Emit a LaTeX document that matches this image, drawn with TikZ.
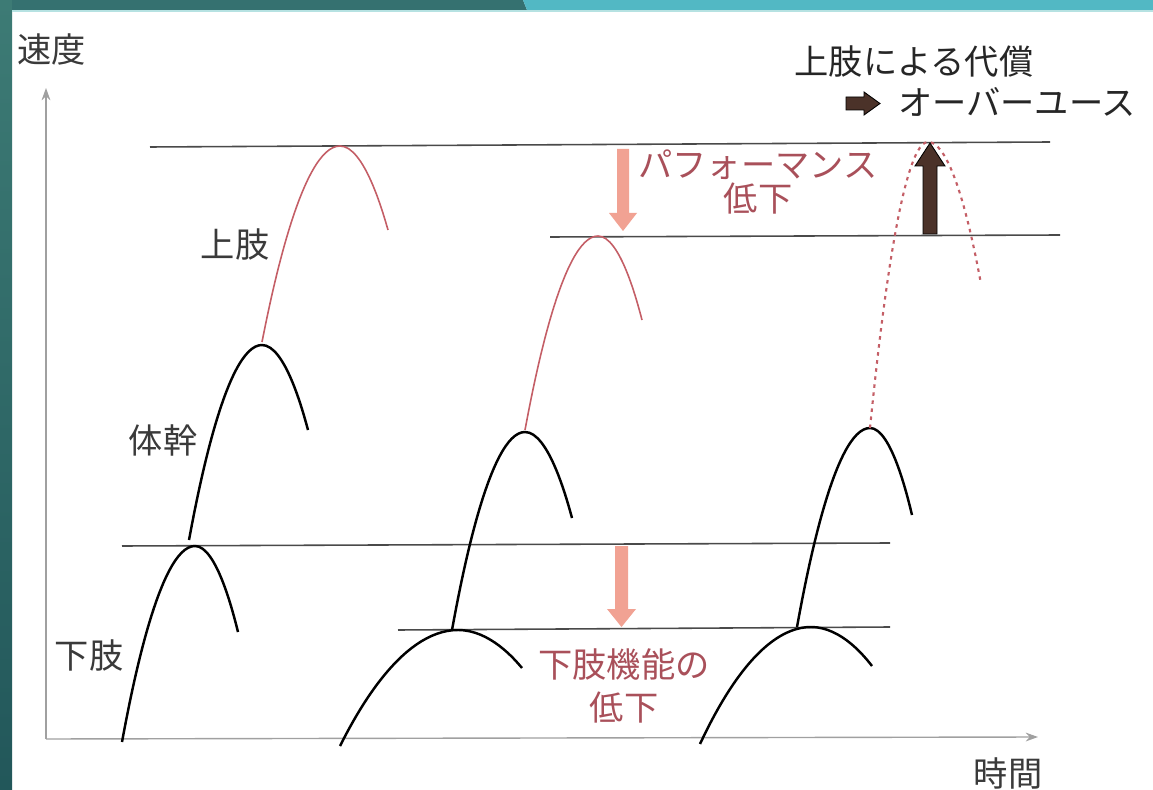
\documentclass[tikz,border=0pt]{standalone}
\usepackage{fontspec}
\setmainfont{Noto Sans CJK JP}
\usetikzlibrary{arrows.meta}
\definecolor{txtgray}{HTML}{3A3A3A}
\definecolor{redtxt}{HTML}{A9505A}
\definecolor{redcurve}{HTML}{C45E66}
\definecolor{pinkarrow}{HTML}{F1A293}
\definecolor{brownarrow}{HTML}{4B3229}
\definecolor{tealA}{HTML}{3D7B75}
\definecolor{tealB}{HTML}{22575A}
\definecolor{tealTop}{HTML}{357170}
\definecolor{tealLight}{HTML}{52B8C4}
\definecolor{tealLine}{HTML}{B6E2E2}
\definecolor{axisgray}{HTML}{A0A0A0}
\definecolor{linegray}{HTML}{4A4A4A}
\tikzset{
  lbl/.style={font=\fontsize{19.5}{20}\selectfont, text=txtgray, inner sep=0pt},
  redlbl/.style={font=\fontsize{19.5}{20}\selectfont, text=redtxt, inner sep=0pt, align=center},
  level/.style={draw=linegray, line width=0.9pt},
  axisline/.style={draw=axisgray, line width=0.8pt, -{Stealth[length=7pt,width=5pt]}},
  blackcurve/.style={draw=black, line width=1.4pt},
  redcurveline/.style={draw=redcurve, line width=0.9pt},
  reddotted/.style={draw=redcurve, line width=1.2pt, dash pattern=on 2pt off 2.6pt},
  pinkblock/.style={fill=pinkarrow, draw=none},
  brownblock/.style={fill=brownarrow, draw=black, line width=0.5pt}
}
\begin{document}
\begin{tikzpicture}[x=0.02cm,y=-0.02cm]
\useasboundingbox (0,0) rectangle (1153,790);
% background frame
\fill[white] (0,0) rectangle (1153,790);
\shade[top color=tealA, bottom color=tealB] (0,0) rectangle (12,790);
\fill[tealTop] (12,0) -- (523,0) -- (527,10) -- (12,10) -- cycle;
\fill[tealLight] (523,0) -- (1153,0) -- (1153,10) -- (527,10) -- cycle;
\fill[tealLine] (12,10) rectangle (1153,12);

% axes
\coordinate (origin) at (46,739);
\coordinate (ytip) at (46,88);
\coordinate (xtip) at (1038,737);
\draw[axisline] (origin) -- (ytip);
\draw[axisline] (origin) -- (xtip);
\node[lbl] (vlabel) at (52,50) {速度};
\node[lbl] (tlabel) at (1008,773) {時間};

% level lines
\coordinate (l1a) at (150,147); \coordinate (l1b) at (1050,142);
\coordinate (l2a) at (550,237); \coordinate (l2b) at (1060,235);
\coordinate (l3a) at (122,546); \coordinate (l3b) at (890,543);
\coordinate (l4a) at (398,630); \coordinate (l4b) at (890,627);
\draw[level] (l1a) -- (l1b);
\draw[level] (l2a) -- (l2b);
\draw[level] (l3a) -- (l3b);
\draw[level] (l4a) -- (l4b);

% group 1
\draw[blackcurve] (122,742) parabola bend (195,546) (238,632);
\draw[blackcurve] (189,540) parabola bend (262,345) (308,430);
\draw[redcurveline] (262,342) parabola bend (340,146) (388,230);
% group 2
\draw[blackcurve] (340,746) parabola bend (458,630) (522,668);
\draw[blackcurve] (452,630) parabola bend (525,432) (572,518);
\draw[redcurveline] (525,430) parabola bend (598,236) (642,320);
% group 3
\draw[blackcurve] (700,744) parabola bend (811,627) (872,666);
\draw[blackcurve] (797,627) parabola bend (870,428) (912,515);
\draw[reddotted] (870,428) parabola bend (928,142) (981,284);

% labels
\node[lbl] (upper) at (235,244) {上肢};
\node[lbl] (trunk) at (163,440) {体幹};
\node[lbl] (lower) at (89,655) {下肢};

% pink arrow: performance drop
\fill[pinkblock] (617,149) -- (629,149) -- (629,213) -- (637,213) -- (623,231) -- (609,213) -- (617,213) -- cycle;
\node[redlbl, font=\fontsize{19.5}{19.8}\selectfont] (perf) at (758,182) {パフォーマンス\\低下};

% pink arrow: lower limb function drop
\fill[pinkblock] (615,546) -- (628,546) -- (628,609) -- (636,609) -- (621.5,627) -- (607,609) -- (615,609) -- cycle;
\node[redlbl, font=\fontsize{19.5}{24.4}\selectfont] (lowfunc) at (624,686) {下肢機能の\\低下};

% brown arrow: compensation
\filldraw[brownblock] (923,234) -- (937,234) -- (937,166) -- (945,166) -- (930,143) -- (915,166) -- (923,166) -- cycle;

% top-right text
\node[lbl, text=black!85] (comp) at (914,62) {上肢による代償};
\filldraw[brownblock] (846,97) -- (864,97) -- (864,92) -- (880,103.5) -- (864,115) -- (864,110) -- (846,110) -- cycle;
\node[lbl, text=black!85] (overuse) at (1017,102) {オーバーユース};
\end{tikzpicture}
\end{document}
